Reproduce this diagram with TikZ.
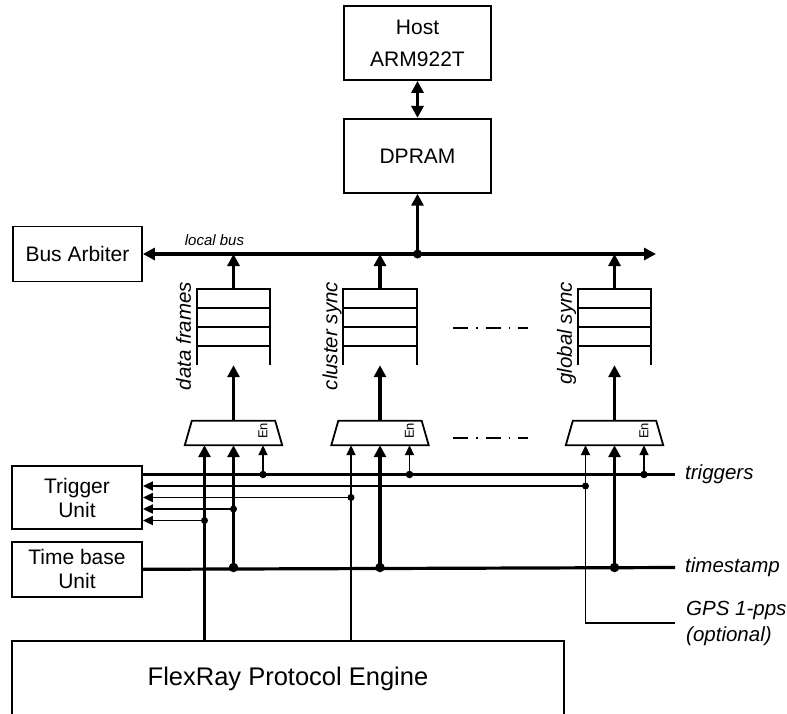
\documentclass[tikz,border=0pt]{standalone}
\usepackage{fontspec}
\setmainfont{Liberation Sans}
\usetikzlibrary{arrows.meta, positioning, calc}
\tikzset{
    % Plain block
    block/.style={
        rectangle,
        draw,
        line width=1.8pt,
        inner sep=0pt,
        align=center,
        font=\fontsize{21}{24}\selectfont
    },
    % FIFO body (lines drawn afterwards)
    fifo/.style={
        rectangle,
        minimum width=73pt,
        minimum height=76pt,
        inner sep=0pt
    },
    % Multiplexer body (outline drawn afterwards)
    mux/.style={
        rectangle,
        minimum width=97pt,
        minimum height=24pt,
        inner sep=0pt
    },
    % Thick arrow
    busarrow/.style={
        line width=3.2pt,
        -{Triangle[length=12pt,width=12pt]}
    },
    % Thin arrow
    wirearrow/.style={
        line width=1.8pt,
        -{Triangle[length=10pt,width=9pt]}
    },
    % Plain lines
    busline/.style={line width=3.2pt},
    wire/.style={line width=1.8pt},
    % Junction dot
    dot/.style={circle, fill, inner sep=0pt, minimum size=8pt},
    % Signal label
    sig/.style={inner sep=0pt, align=left, font=\itshape\fontsize{20.5}{26}\selectfont},
    % Queue label
    qlabel/.style={rotate=90, anchor=base east, inner sep=0pt, font=\itshape\fontsize{20.5}{24}\selectfont},
    % Enable label
    enlbl/.style={rotate=90, inner sep=0pt, font=\fontsize{13}{15}\selectfont},
    % Dash-dot gap mark
    ellip/.style={line width=1.8pt, dash pattern=on 15pt off 8pt on 1.5pt off 8pt}
}

\begin{document}
\begin{tikzpicture}[x=1pt, y=1pt]
        \useasboundingbox (0,0) rectangle (787,-713);

        % Host side
        \node (host) [block, minimum width=147pt, minimum height=74pt] at (417.5,-43) {Host\\[8pt]ARM922T};
        \node (dpram) [block, minimum width=147pt, minimum height=74pt, below=37pt of host] {DPRAM};
        \draw [busline, {Triangle[length=12pt,width=12pt]}-{Triangle[length=12pt,width=12pt]}] (host) -- (dpram);

        % Local bus
        \node (arb) [block, minimum width=129pt, minimum height=55pt] at (77.5,-254) {Bus Arbiter};
        \coordinate (busend) at (656,-254);
        \draw [busline, {Triangle[length=12pt,width=12pt]}-{Triangle[length=12pt,width=12pt]}] (arb.east) -- (busend);
        \node (lbus) [anchor=base, font=\itshape\fontsize{15}{18}\selectfont] at (214.5,-245) {local bus};
        \node (jbus) [dot, minimum size=9pt] at (dpram.south |- arb.east) {};
        \draw [busarrow] (jbus.center) -- (dpram.south);

        % Queues
        \node (q1) [fifo] at (233.5,-327) {};
        \node (q2) [fifo] at (380,-327) {};
        \node (q3) [fifo] at (614.5,-327) {};
        \foreach \q in {q1,q2,q3} {
            \draw [wire] (\q.south west) -- (\q.north west) -- (\q.north east) -- (\q.south east);
            \foreach \f in {0.25,0.5,0.75}
                \draw [wire] ($(\q.north west)!\f!(\q.south west)$) -- ($(\q.north east)!\f!(\q.south east)$);
            \draw [busarrow] (\q.north) -- (\q.north |- arb.east);
        }
        \node [qlabel] at ($(q1.north west)+(-6,7)$) {data frames};
        \node [qlabel] at ($(q2.north west)+(-6,7)$) {cluster sync};
        \node [qlabel] at ($(q3.north west)+(-6,7)$) {global sync};

        % Multiplexers
        \node (m1) [mux] at (233.5,-433) {};
        \node (m2) [mux] at (380,-433) {};
        \node (m3) [mux] at (614.5,-433) {};
        \foreach \m/\q in {m1/q1,m2/q2,m3/q3} {
            \draw [wire, line join=miter] (\m.south west) -- ($(\m.north west)+(7,0)$) -- ($(\m.north east)+(-7,0)$) -- (\m.south east) -- cycle;
            \draw [busarrow] (\m.north) -- (\q.south);
            \node [enlbl] at ($(\m.center)+(29.5,2)$) {En};
            \coordinate (\m l) at ($(\m.south)+(-29,0)$);
            \coordinate (\m c) at (\m.south);
            \coordinate (\m r) at ($(\m.south)+(29.5,0)$);
        }

        \draw [ellip] ($(q2.east)+(36.5,-1)$) -- ++(75,0);
        \draw [ellip] ($(m2.center)+(73,-5)$) -- ++(75,0);

        % Trigger and time base
        \node (trig) [block, minimum width=130pt, minimum height=63pt] at (77,-497.5) {Trigger\\Unit};
        \node (tbase) [block, minimum width=130pt, minimum height=55pt, below=11pt of trig] {Time base\\Unit};
        \node (fpe) [block, minimum width=552pt, minimum height=76pt, font=\fontsize{25.5}{30}\selectfont] at (288,-679) {FlexRay Protocol Engine};

        \coordinate (t0) at ($(trig.east)+(0,23)$);
        \coordinate (t1) at ($(trig.east)+(0,11.5)$);
        \coordinate (t2) at (trig.east);
        \coordinate (t3) at ($(trig.east)+(0,-11.5)$);
        \coordinate (t4) at ($(trig.east)+(0,-23)$);

        \coordinate (trigend) at (675,-474.5);
        \coordinate (tsend) at (675,-567.5);
        \coordinate (gpsend) at (675,-623);
        \draw [busline] (t0) -- (trigend);
        \draw [busline] (tbase.east) -- (tsend);
        \node [sig, right=10pt of trigend] {triggers};
        \node [sig, right=10pt of tsend] {timestamp};
        \node [sig, right=11pt of gpsend] {GPS 1-pps\\(optional)};

        % Mux inputs
        \draw [busarrow] (m1l |- fpe.north) -- (m1l);
        \draw [busarrow] (m1c |- tsend) -- (m1c);
        \draw [wirearrow] (m1r |- trigend) -- (m1r);
        \draw [wirearrow] (m2l |- fpe.north) -- (m2l);
        \draw [busarrow] (m2c |- tsend) -- (m2c);
        \draw [wirearrow] (m2r |- trigend) -- (m2r);
        \draw [wirearrow] (gpsend) -| (m3l);
        \draw [busarrow] (m3c |- tsend) -- (m3c);
        \draw [wirearrow] (m3r |- trigend) -- (m3r);

        % Feedback to trigger unit
        \node (f1) [dot, minimum size=7pt] at (m3l |- t1) {};
        \node (f2) [dot, minimum size=7pt] at (m2l |- t2) {};
        \node (f3) [dot, minimum size=7pt] at (m1c |- t3) {};
        \node (f4) [dot, minimum size=7pt] at (m1l |- t4) {};
        \draw [wirearrow] (f1.center) -- (t1);
        \draw [wirearrow] (f2.center) -- (t2);
        \draw [wirearrow] (f3.center) -- (t3);
        \draw [wirearrow] (f4.center) -- (t4);

        % Junctions
        \node (j1) [dot, minimum size=7.5pt] at (m1r |- trigend) {};
        \node (j2) [dot, minimum size=7.5pt] at (m2r |- trigend) {};
        \node (j3) [dot, minimum size=7.5pt] at (m3r |- trigend) {};
        \node (k1) [dot, minimum size=9.5pt] at (m1c |- tsend) {};
        \node (k2) [dot, minimum size=9.5pt] at (m2c |- tsend) {};
        \node (k3) [dot, minimum size=9.5pt] at (m3c |- tsend) {};
\end{tikzpicture}
\end{document}
